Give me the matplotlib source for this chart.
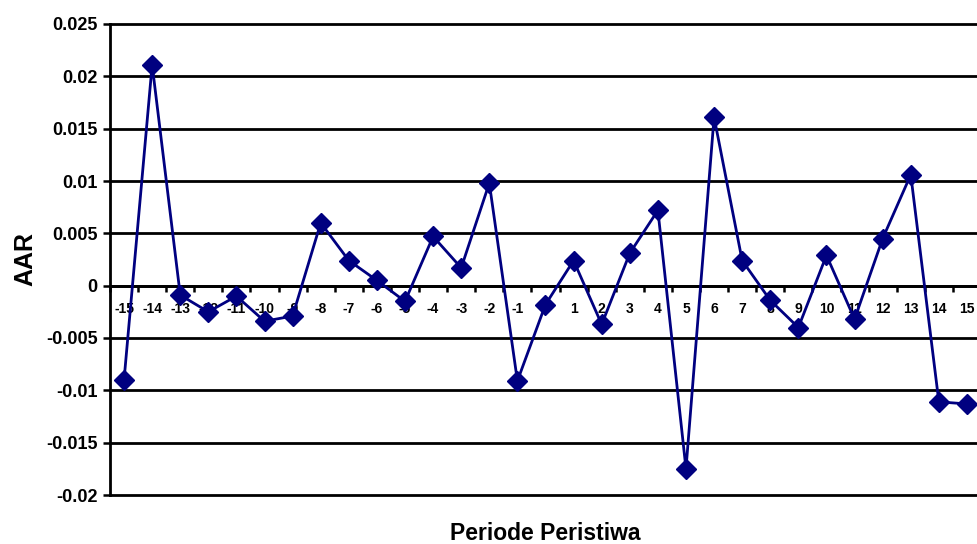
import matplotlib.pyplot as plt
import numpy as np

plt.rcParams['font.family'] = ['Liberation Sans', 'DejaVu Sans']
plt.rcParams['font.weight'] = 'bold'

# data
periode = list(range(-15, 16))
aar = [-0.0090, 0.0211, -0.0009, -0.0025, -0.0010, -0.0034, -0.0029, 0.0060,
       0.0024, 0.0005, -0.0015, 0.0047, 0.0017, 0.0098, -0.0091, -0.0018,
       0.0024, -0.0037, 0.0031, 0.0072, -0.0175, 0.0161, 0.0024, -0.0014,
       -0.0040, 0.0029, -0.0032, 0.0045, 0.0106, -0.0111, -0.0113]
y_ticks = [-0.02, -0.015, -0.01, -0.005, 0, 0.005, 0.01, 0.015, 0.02, 0.025]
y_labels = ['-0.02', '-0.015', '-0.01', '-0.005', '0', '0.005', '0.01', '0.015', '0.02', '0.025']

fig = plt.figure(figsize=(9.78, 5.44), dpi=100)
ax = fig.add_axes([110/978, 1-495/544, 871/978, 471/544])

ax.plot(periode, aar, color='#000080', lw=2.0, marker='D', markersize=10,
        markerfacecolor='#000080', markeredgecolor='#000080', zorder=3, clip_on=False)

ax.set_ylim(-0.02, 0.025)
ax.set_xlim(-15.5, 15.5)
ax.set_yticks(y_ticks)
ax.set_yticklabels(y_labels, fontsize=13, fontweight='bold')
ax.yaxis.grid(True, color='black', lw=2.0)
for gl in ax.get_ygridlines():
    gl.set_clip_on(False)
ax.set_axisbelow(True)

ax.set_xticks(periode)
ax.set_xticks(np.arange(-15.5, 16, 1), minor=True)
ax.set_xticklabels([str(p) for p in periode])
for lbl in ax.get_xticklabels():
    lbl.set_fontweight('bold')
    lbl.set_fontsize(11.5)
ax.tick_params(axis='x', which='major', length=0, pad=12)
ax.tick_params(axis='x', which='minor', length=4, width=1.8, direction='out')
ax.tick_params(axis='y', length=5, width=1.8, direction='out', pad=4)

ax.spines['bottom'].set_position(('data', 0))
ax.spines['bottom'].set_linewidth(2.0)
ax.spines['left'].set_linewidth(2.0)
ax.spines['top'].set_visible(False)
ax.spines['right'].set_visible(False)

ax.set_ylabel('AAR', fontsize=18, fontweight='bold', labelpad=6)
fig.text((110 + 871/2)/978, 1-534/544, 'Periode Peristiwa', fontsize=16.5, fontweight='bold',
         ha='center', va='center')

fig.savefig('out.png', dpi=100)
